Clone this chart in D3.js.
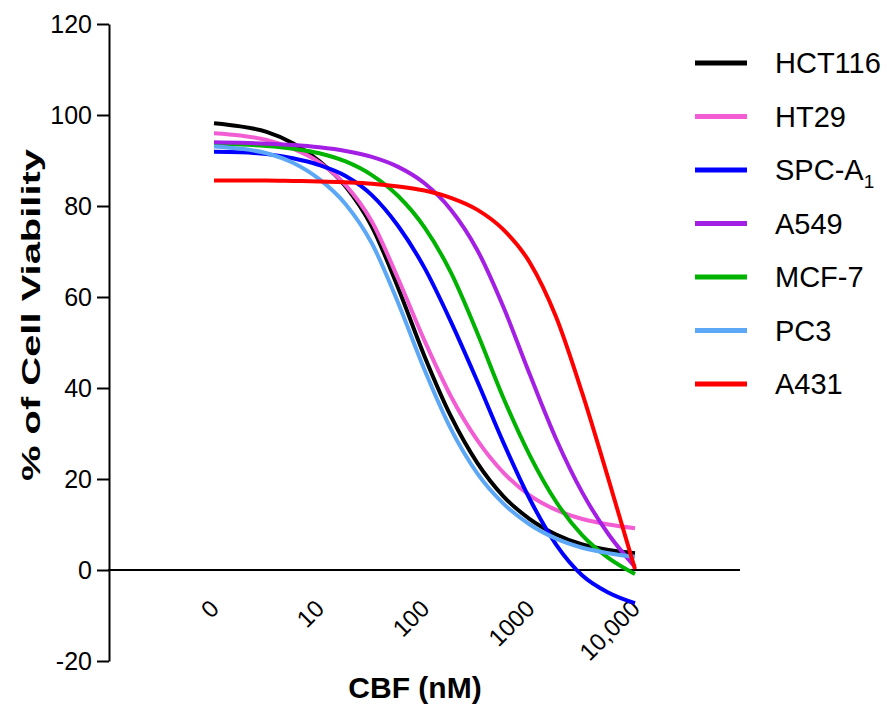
<!DOCTYPE html>
<html>
<head>
<meta charset="utf-8">
<script src="https://cdn.jsdelivr.net/npm/d3@7"></script>
<style>
  html, body { margin: 0; padding: 0; background: #fff; }
  svg { display: block; }
  text { font-family: "Liberation Sans", Arial, sans-serif; fill: #000; }
</style>
</head>
<body>
<svg id="chart" width="887" height="704"></svg>
<script>
// ---- data ----
const doses = [1, 1.78, 3.16, 5.62, 10, 17.8, 31.6, 56.2, 100, 178, 316, 562, 1000, 1780, 3160, 5620, 10000];

const seriesNames = ["HCT116", "HT29", "SPC-A1", "A549", "MCF-7", "PC3", "A431"];
const seriesColors = ["#000000", "#F25DD3", "#0000FF", "#A31FE3", "#00B300", "#5CA8F7", "#FF0000"];

const hct116 = [98.2, 97.5, 96.3, 93.8, 89.9, 84.3, 75.5, 62.0, 47.0, 33.8, 23.6, 16.2, 11.2, 7.8, 5.6, 4.4, 3.7];
const ht29   = [96.0, 95.5, 94.5, 92.6, 89.6, 84.6, 76.6, 64.0, 50.4, 38.2, 28.6, 21.4, 16.4, 13.2, 11.2, 10.0, 9.2];
const spcA1  = [91.9, 91.8, 91.4, 90.5, 89.0, 86.6, 82.4, 75.6, 66.4, 54.6, 41.6, 28.0, 15.6, 5.6, -1.2, -5.0, -7.3];
const a549   = [94.0, 93.9, 93.7, 93.4, 92.9, 92.1, 90.8, 88.6, 85.0, 79.2, 70.4, 57.8, 43.0, 28.8, 17.0, 7.8, 0.7];
const mcf7   = [93.6, 93.5, 93.2, 92.6, 91.6, 89.8, 86.8, 82.2, 75.3, 65.4, 52.2, 37.8, 25.2, 15.0, 7.6, 2.6, -0.9];
const pc3    = [93.1, 92.6, 91.6, 89.5, 85.9, 80.4, 71.8, 58.7, 44.0, 31.0, 21.3, 14.6, 10.0, 6.9, 4.9, 3.7, 2.9];
const a431   = [85.6, 85.6, 85.6, 85.5, 85.4, 85.2, 84.9, 84.3, 83.4, 81.8, 79.2, 74.8, 67.6, 55.6, 38.8, 19.8, 0.2];

const seriesValues = [hct116, ht29, spcA1, a549, mcf7, pc3, a431];
const drawOrder = [0, 1, 2, 4, 3, 5, 6];

const xTickValues = [1, 10, 100, 1000, 10000];
const xTickLabels = ["0", "10", "100", "1000", "10,000"];
const yTickValues = [-20, 0, 20, 40, 60, 80, 100, 120];

// ---- layout ----
const svg = d3.select("#chart");
const axisX = 109;           // y-axis position
const x = d3.scaleLog().domain([1, 10000]).range([214, 635]);
const y = d3.scaleLinear().domain([-20, 120]).range([661, 24]);

// y axis
const yAxis = d3.axisLeft(y).tickValues(yTickValues).tickFormat(d => String(d))
  .tickSize(12).tickSizeOuter(0).tickPadding(5);
const gy = svg.append("g").attr("transform", `translate(${axisX},0)`).call(yAxis);
gy.selectAll("path.domain").attr("stroke", "#000").attr("stroke-width", 2);
gy.selectAll(".tick line").attr("stroke", "#000").attr("stroke-width", 2);
gy.selectAll(".tick text").style("font-size", "25px").attr("fill", "#000")
  .style("font-family", '"Liberation Sans", Arial, sans-serif');

// x axis line at y = 0
svg.append("line")
  .attr("x1", axisX - 1).attr("x2", 740)
  .attr("y1", y(0)).attr("y2", y(0))
  .attr("stroke", "#000").attr("stroke-width", 2);

// x tick labels (rotated)
const xAxis = d3.axisBottom(x).tickValues(xTickValues)
  .tickFormat((d, i) => xTickLabels[i]).tickSize(0).tickSizeOuter(0);
const gx = svg.append("g").attr("transform", `translate(0,${y(0)})`).call(xAxis);
gx.select("path.domain").remove();
gx.selectAll(".tick text")
  .attr("text-anchor", "end")
  .attr("x", 0).attr("y", 0).attr("dy", 0)
  .attr("transform", "translate(6,40) rotate(-45)")
  .style("font-size", "24px")
  .style("font-family", '"Liberation Sans", Arial, sans-serif')
  .attr("fill", "#000");

// curves
const line = d3.line()
  .x((d, i) => x(doses[i]))
  .y(d => y(d))
  .curve(d3.curveMonotoneX);

drawOrder.forEach(k => {
  svg.append("path")
    .datum(seriesValues[k])
    .attr("d", line)
    .attr("fill", "none")
    .attr("stroke", seriesColors[k])
    .attr("stroke-width", 4)
    .attr("stroke-linejoin", "round");
});

// axis titles
svg.append("text")
  .attr("transform", "translate(40,315) rotate(-90)")
  .attr("text-anchor", "middle")
  .style("font-size", "26px").style("font-weight", "bold")
  .attr("textLength", 332).attr("lengthAdjust", "spacingAndGlyphs")
  .text("% of Cell Viability");

svg.append("text")
  .attr("x", 415).attr("y", 698)
  .attr("text-anchor", "middle")
  .style("font-size", "30px").style("font-weight", "bold")
  .text("CBF (nM)");

// legend
const legend = svg.append("g");
seriesNames.forEach((name, i) => {
  const ly = 63 + i * 53.5;
  legend.append("line")
    .attr("x1", 695).attr("x2", 747).attr("y1", ly).attr("y2", ly)
    .attr("stroke", seriesColors[i]).attr("stroke-width", 5);
  const t = legend.append("text")
    .attr("x", 775).attr("y", ly + 10)
    .style("font-size", "29px");
  if (name === "SPC-A1") {
    t.append("tspan").text("SPC-A");
    t.append("tspan").attr("dy", 8).style("font-size", "19px").text("1");
  } else {
    t.text(name);
  }
});
</script>
</body>
</html>
